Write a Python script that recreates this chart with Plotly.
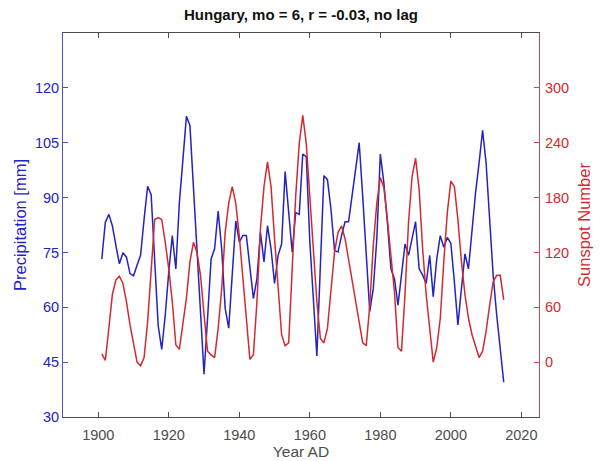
import plotly.graph_objects as go

years = list(range(1901, 2016))

precip = [73.2, 83.2, 85.4, 82.3, 76.9, 71.9, 74.9, 73.7, 69.2, 68.6,
          71.5, 74.2, 84.1, 93.1, 90.8, 72.4, 55.0, 48.5, 57.9, 69.7,
          79.6, 70.5, 88.6, 100.3, 112.2, 109.7, 92.2, 75.1, 58.8, 41.7,
          57.0, 73.2, 76.0, 86.3, 76.0, 59.7, 54.3, 68.8, 83.6, 77.8,
          79.6, 79.6, 71.5, 62.4, 67.8, 80.5, 72.4, 82.3, 76.0, 66.5,
          74.2, 77.3, 97.1, 86.8, 75.1, 85.9, 85.4, 101.9, 101.2, 78.0,
          62.0, 46.7, 71.5, 96.0, 94.9, 86.8, 75.5, 75.1, 79.6, 83.4,
          83.4, 90.4, 96.7, 105.0, 90.4, 74.2, 58.8, 65.1, 78.7, 101.9,
          94.0, 83.2, 70.5, 67.8, 60.6, 68.8, 77.3, 74.2, 78.7, 83.4,
          70.5, 68.8, 66.5, 74.2, 62.9, 73.2, 79.6, 76.4, 79.1, 77.5,
          66.9, 55.2, 65.1, 74.6, 70.5, 81.4, 91.3, 99.4, 108.4, 99.4,
          84.1, 68.8, 57.9, 48.9, 39.5]

sunspots = [9, 2, 37, 74, 90, 94, 86, 66, 41, 19,
            0, -4, 5, 44, 102, 156, 158, 156, 131, 102,
            66, 19, 14, 41, 70, 110, 131, 120, 95, 52,
            12, 8, 5, 37, 80, 142, 174, 192, 174, 138,
            91, 44, 3, 8, 66, 146, 192, 219, 192, 135,
            77, 30, 18, 21, 102, 182, 239, 270, 239, 185,
            124, 66, 26, 21, 37, 77, 120, 142, 149, 135,
            113, 91, 66, 44, 21, 18, 62, 128, 174, 202,
            191, 156, 117, 77, 16, 12, 74, 153, 203, 223,
            189, 124, 74, 37, 0, 16, 48, 110, 164, 198,
            192, 156, 110, 74, 48, 30, 16, 5, 12, 34,
            62, 88, 95, 95, 68]

x_ticks = [1900, 1920, 1940, 1960, 1980, 2000, 2020]
left_ticks = [30, 45, 60, 75, 90, 105, 120]
right_ticks = [0, 60, 120, 180, 240, 300]

BLUE = "#2323c0"
RED = "#d42a2f"
AXBLUE = "#5050c8"
AXRED = "#c84a4e"
GRAY = "#4d4d4d"
FONT = "Liberation Sans"

fig = go.Figure()
fig.add_trace(go.Scatter(x=years, y=precip, mode="lines",
                         line=dict(color=BLUE, width=1.5), yaxis="y", showlegend=False))
fig.add_trace(go.Scatter(x=years, y=sunspots, mode="lines",
                         line=dict(color=RED, width=1.5), yaxis="y2", showlegend=False))

fig.update_layout(
    width=601, height=461,
    margin=dict(l=63, r=62, t=33, b=44),
    paper_bgcolor="white", plot_bgcolor="white",
    font=dict(family=FONT, size=14.5, color=GRAY),
    title=dict(text="<b>Hungary, mo = 6, r = -0.03, no lag</b>",
               x=0.5, xref="paper", xanchor="center",
               y=1, yref="container", yanchor="top", pad=dict(t=9),
               font=dict(family=FONT, size=15, color="#111111")),
    xaxis=dict(range=[1890, 2025], tickvals=x_ticks, ticks="inside", ticklen=5,
               tickcolor=GRAY, showline=True, linecolor=GRAY, linewidth=1,
               mirror="ticks", showgrid=False, zeroline=False, automargin=False,
               ticklabelstandoff=5,
               title=dict(text="Year AD", font=dict(size=15.5, color=GRAY), standoff=3),
               tickfont=dict(size=14.5, color=GRAY)),
    yaxis=dict(range=[30, 135], tickvals=left_ticks, ticks="inside", ticklen=5,
               tickcolor=AXBLUE, showline=True, linecolor=AXBLUE, linewidth=1,
               showgrid=False, zeroline=False, automargin=False,
               title=dict(text="Precipitation [mm]", font=dict(size=16.5, color=BLUE), standoff=4),
               tickfont=dict(size=14.5, color=BLUE)),
    yaxis2=dict(range=[-60, 360], tickvals=right_ticks, ticks="inside", ticklen=5,
                tickcolor=AXRED, showline=True, linecolor=AXRED, linewidth=1,
                overlaying="y", side="right", showgrid=False, zeroline=False,
                automargin=False, ticklabelstandoff=2,
                title=dict(text="Sunspot Number", font=dict(size=16.5, color=RED), standoff=10),
                tickfont=dict(size=14.5, color=RED)),
)

fig.write_html("out.html")
